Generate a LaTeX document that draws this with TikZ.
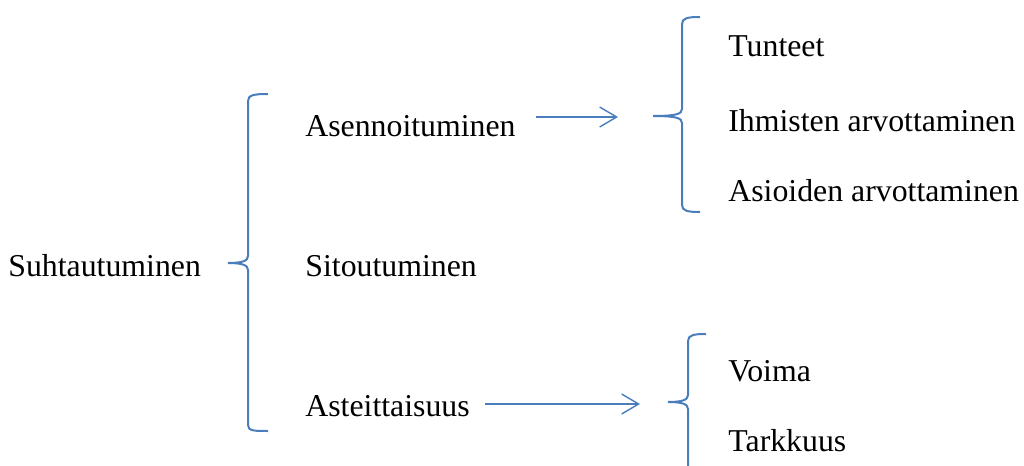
\documentclass[tikz,border=0pt]{standalone}
\usepackage{fontspec}
\setmainfont{Liberation Serif}
\usetikzlibrary{arrows.meta}
\definecolor{bl}{RGB}{74,126,187}
\begin{document}
\begin{tikzpicture}[x=0.5pt,y=-0.5pt,
  lbl/.style={anchor=base west,inner sep=0pt,font=\fontsize{15.9pt}{19pt}\selectfont},
  brc/.style={draw=bl,line width=1pt},
  arr/.style={draw=bl,line width=0.7pt,-{Straight Barb[length=8.5pt,width=10pt,line width=0.7pt]}}]
\useasboundingbox (0,0) rectangle (1024,466);
% texts
\node[lbl] (suh) at (8,276) {Suhtautuminen};
\node[lbl] (ase) at (305,136) {Asennoituminen};
\node[lbl] (sit) at (305,276) {Sitoutuminen};
\node[lbl] (ast) at (305,416) {Asteittaisuus};
\node[lbl] (tun) at (728,56) {Tunteet};
\node[lbl] (ihm) at (728,131) {Ihmisten arvottaminen};
\node[lbl] (asi) at (728,201) {Asioiden arvottaminen};
\node[lbl] (voi) at (728,381) {Voima};
\node[lbl] (tar) at (728,451) {Tarkkuus};
% brace 1
\coordinate (b1) at (228,263);
\draw[brc] (268,94) .. controls (254,94) and (248,95) .. (248,101) -- (248,256)
  .. controls (248,261) and (242,263) .. (b1)
  (b1) .. controls (242,263) and (248,265) .. (248,270) -- (248,425)
  .. controls (248,431) and (254,431) .. (268,431);
% brace 2
\coordinate (b2) at (653,116);
\draw[brc] (700,17) .. controls (688,17) and (682,18) .. (682,24) -- (682,109)
  .. controls (682,114) and (676,116) .. (b2)
  (b2) .. controls (676,116) and (682,118) .. (682,123) -- (682,205)
  .. controls (682,211) and (688,212) .. (700,212);
% brace 3
\coordinate (b3) at (668,402);
\draw[brc] (706,334) .. controls (694,334) and (688,335) .. (688,341) -- (688,395)
  .. controls (688,400) and (682,402) .. (b3)
  (b3) .. controls (682,402) and (688,404) .. (688,409) -- (688,470);
% arrows
\coordinate (a1s) at (536,117);
\coordinate (a1e) at (618,117);
\draw[arr] (a1s) -- (a1e);
\coordinate (a2s) at (485,404);
\coordinate (a2e) at (640,404);
\draw[arr] (a2s) -- (a2e);
\end{tikzpicture}
\end{document}
